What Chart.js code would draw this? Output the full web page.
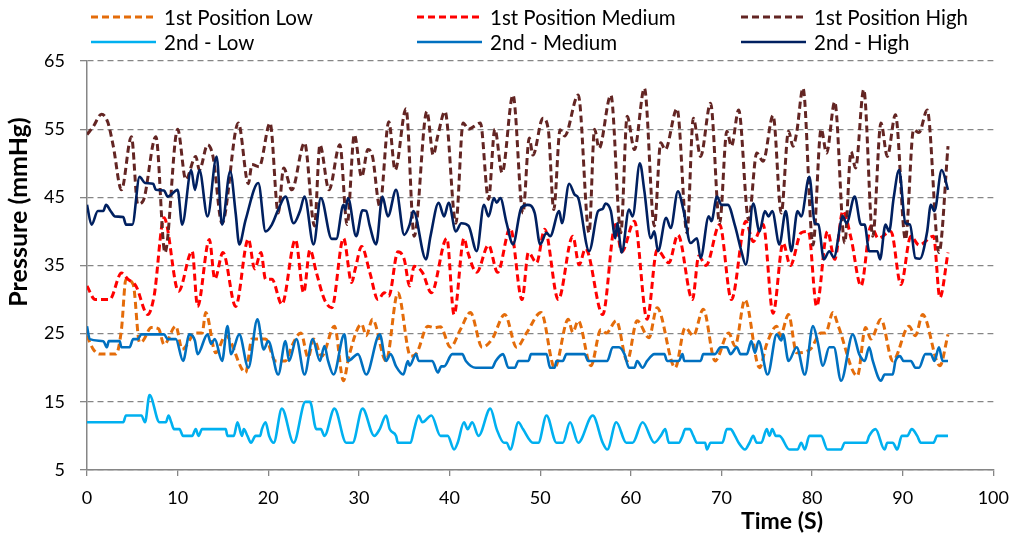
<!DOCTYPE html>
<html>
<head>
<meta charset="utf-8">
<script src="https://cdn.jsdelivr.net/npm/chart.js@4.4.1/dist/chart.umd.min.js"></script>
<style>
  html, body { margin: 0; padding: 0; background: #fff; }
</style>
</head>
<body>
<canvas id="myChart" width="1020" height="536"></canvas>
<script>
var FONT = "Lato, 'Open Sans', sans-serif";

// [time (s), pressure (mmHg)]
var pos1Low = [[0,24.7],[0.7,22.7],[1.4,22],[3.2,22],[3.8,25.6],[4.3,33],[5.1,32.2],[5.8,23.7],[6.2,24],[7.1,25.9],
  [7.9,25.7],[8.5,23.4],[9.8,26.1],[10.5,22.7],[12,25.1],[12.7,25.1],[13.1,28.1],[14.2,22.2],[15.3,24.7],[17.5,19.3],
  [18.2,24.2],[19.7,24.2],[20.8,21],[21.9,21],[22.6,23.2],[23.6,25.1],[24.4,21.5],[25,24.2],[25.9,21.7],[27.3,26.1],
  [28.3,18.1],[28.9,21.7],[30.3,26.4],[30.8,24.7],[31.5,27.1],[33,21],[34.3,31],[35.7,21.7],[36.4,22.2],[37.6,26.1],
  [38.3,25.9],[39,26],[40.1,23],[41.2,25.6],[42.3,28.1],[43.6,23],[44.7,24.2],[46.1,27.8],[47.4,23],[48.5,25.1],
  [50.1,28.1],[51.6,20],[53.1,27.1],[53.6,25.2],[54.2,26.9],[55.6,20.3],[56.7,25.6],[57.3,25.1],[58.4,26.9],[59.6,21],
  [60.7,26.9],[62,24.4],[62.9,28.8],[64.9,20],[66,25.9],[66.9,24.7],[68,28.6],[69.3,21],[70.8,25.1],[71.5,23.2],
  [72.6,30],[74.2,20],[75,23.5],[76.1,26.1],[76.5,24.7],[77.4,27.8],[78.3,22.2],[79.8,22.7],[81,25.1],[81.5,25.1],
  [82.3,28.1],[82.9,26.1],[85,18.8],[85.9,25.9],[86.5,24.2],[87.6,27.1],[88.9,21],[90.7,26.1],[91.4,24.7],[92.2,27.8],
  [94.1,20.3],[95,24.9]];

var pos1Medium = [[0,32],[0.9,30],[2.5,30],[3.8,33.9],[4.5,33],[5.4,32],[6.7,27.8],[7.4,30.5],[8.5,42],[10.1,31.2],
  [11.6,37.1],[12.2,29],[13.5,38.8],[14.1,33],[15,36.9],[16.4,29],[17.8,38.9],[18.5,34.5],[19.2,36.9],[19.7,33],
  [20.4,33],[21.5,29.3],[23,38.8],[23.9,31],[24.6,37.3],[25.3,34],[26.2,30],[27,28.8],[28.3,39],[29.2,32.5],
  [29.6,34.5],[30.3,37.8],[31.2,34],[32.1,30],[32.8,31],[33.3,30.5],[34.3,37],[35,35.9],[35.6,32],[36.1,34.9],
  [37,34],[38,31],[39.7,39],[40.5,27.8],[41.6,39],[42,37],[43,34],[44.3,38],[45.3,34],[46.7,40.5],
  [48,30],[48.7,36.9],[49.6,35.4],[50.5,40.3],[52,30],[53.6,39.3],[54.3,35.1],[55,37.5],[56.9,27.8],[58.3,41],
  [59,37],[60.4,41.5],[61.8,27.1],[62.9,37.3],[64.2,35.4],[65.2,39.5],[66.8,30],[67.5,36.4],[68.3,35],[69.8,41],
  [71.1,30],[72.7,41.5],[73.5,38.5],[74.6,41],[75.7,28],[76.8,38.3],[77.6,35],[78.8,39.8],[79.6,40],[80.5,29],
  [81.7,40],[82.5,35.9],[83.4,43],[84.3,39],[85.4,32],[86.5,40.8],[87.3,39],[88.7,40],[89.8,32.2],[90.9,39.3],
  [91.8,38],[93.4,39.3],[94.1,30.3],[95,36.9]];

var pos1High = [[0,54.2],[0.7,55.4],[1.6,57.2],[2.3,56],[2.9,52.5],[3.8,46.1],[4.9,53.9],[5.6,44],[6.2,44.5],[7.6,53.9],
  [8.6,36.9],[10,55],[10.9,47.6],[12,51],[12.4,49],[13.3,52.7],[13.9,51],[14.9,41.2],[16.7,55.9],[17.8,47],
  [18.2,49.8],[19,49.5],[20.2,55.9],[21.1,42.7],[21.7,49.3],[22.6,46.1],[24,53],[25.1,40.8],[25.7,52.7],[26.7,46.1],
  [27.9,52.7],[28.7,41],[29.5,54.2],[30.3,48],[31,52],[31.5,51],[32.3,43.7],[33.3,56.1],[34,49],[35.2,58],
  [36.1,39.3],[37.5,57.6],[38.2,51.2],[38.7,54],[39.5,57.6],[40.7,41.2],[41.5,55.9],[42.1,55],[42.7,55.4],[43.4,55.9],
  [44.3,44.7],[45,55],[45.8,48.6],[47,60],[48.1,42.7],[48.8,53.7],[49.2,51.2],[50.3,56.6],[50.9,54.9],[51.5,43.2],
  [52.2,54.9],[52.7,54],[54.2,60],[55.4,39.8],[56,55],[56.5,52.2],[57.8,60],[58.9,39.8],[59.6,56.9],[60.4,52],
  [61.5,61],[62.6,40.8],[63.3,53],[63.8,52],[65.1,58],[66.2,39.8],[66.9,56.6],[67.7,51],[68.8,58.8],[69.8,41.2],
  [70.6,54.7],[71.1,52.5],[71.9,57.8],[73,41.7],[73.9,51.5],[74.6,50.3],[75.7,57],[76.6,42.7],[77.4,54.7],[77.9,52.5],
  [78.3,54.5],[79,61],[80.1,38],[81,55],[81.6,51.5],[82.5,59],[83.6,38.3],[84.3,51.7],[84.8,49.3],[85.7,60.8],
  [86.7,39.3],[87.6,55.9],[88.3,51],[89.2,57.1],[90.3,38.8],[91.2,54.9],[91.8,54.5],[92.7,57.8],[94,36.9],[95,52.5]];

var pos2Low = [[0,12],[4,12],[4.3,13],[6,13],[6.4,12],[6.9,16],[8,12],[8.7,12],[9,13],[9.3,12],
  [9.6,11],[10.2,11],[10.6,10],[11.6,10],[12,11],[12.3,10],[12.7,11],[15.3,11],[15.5,10],[16.2,10],
  [16.6,12],[17.1,10],[17.3,11],[17.7,10],[18.1,9],[18.6,10],[19.1,10],[19.3,11],[19.7,12],[20.1,10],
  [20.6,9],[21.5,14],[22.8,9],[24.1,15],[24.6,15],[25.3,11],[25.8,11],[26.2,10],[27.3,14],[28.6,9],
  [29.3,9],[30.4,14],[31.7,10],[32.3,11],[33,13],[33.4,11],[34.1,10],[34.3,9],[35.7,9],[36.1,11],
  [36.6,13],[37,12],[38,13],[39,10],[39.8,10],[40.5,8],[40.9,9],[41.6,12],[42,11],[42.5,12],
  [43.2,10],[44.5,14],[45.2,11],[46,9],[46.3,9],[46.7,8],[47.6,12],[48.1,11],[49.2,9],[49.8,9],
  [50.7,13],[51.8,9],[52.5,9],[53.3,12],[54.2,9],[55.8,13],[56.9,9],[57.4,8],[58.4,12],[59.5,9],
  [60.2,9],[61.3,12],[62.6,9],[63.3,10],[63.8,11],[64.2,9],[65.3,9],[65.7,10],[66,11],[66.5,11],
  [66.9,10],[67.3,9],[68.2,9],[68.4,8],[68.8,9],[70.1,9],[70.6,11],[71,11],[71.5,10],[71.9,9],
  [72.6,8],[73.1,9],[73.5,10],[73.9,9],[74.4,9],[75,11],[75.3,10],[75.6,11],[76,10],[76.4,10],
  [77.5,8],[78.4,8],[78.8,9],[79.2,8],[79.7,10],[81,10],[81.7,8],[83.2,8],[83.6,9],[86,9],
  [86.3,10],[87,11],[88,8],[88.3,9],[88.9,9],[89.4,8],[89.9,10],[90.5,10],[91,11],[91.6,10],
  [92,9],[93.4,9],[93.8,10],[95,10]];

var pos2Medium = [[0,26.1],[0.3,24.2],[1.8,23.9],[2.2,23],[2.4,23.9],[3.6,23.9],[3.8,23],[4.7,23],[5.1,24.2],[5.6,24.2],
  [6,24.9],[8.5,24.9],[8.9,24.2],[9.8,24.2],[10.6,21],[11.3,24.9],[11.9,24],[12.2,22],[13.3,24.9],[13.7,23.5],
  [14.1,24.2],[14.9,21],[15.5,26.1],[15.9,22],[16.8,24.9],[17.8,20],[18.8,27.1],[19.5,22.7],[20,23.9],[21.1,19],
  [21.9,23.9],[22.3,21],[23.1,24.2],[24,19],[24.9,24.2],[25.7,21],[26.2,23.2],[26.6,21],[27.2,19],[28.4,24.9],
  [28.8,21],[29.9,22],[30.8,19],[32.3,24.9],[33,21],[33.5,22],[34.1,20.2],[34.9,19],[35.4,21],[35.6,20.3],
  [36.3,22],[36.6,21],[38.1,21],[38.7,19.3],[39.1,20.2],[39.4,20.2],[40.3,22],[41.4,22],[41.8,21],[42.9,20],
  [44.7,20],[45.1,21],[45.9,22],[46.5,20],[47.2,20],[47.6,21],[48.7,21],[49,22],[50.7,22],[51.1,20],
  [51.6,20],[51.8,21],[52.5,21],[52.9,22],[54.9,22],[55.3,21],[57.4,21],[58,23],[58.7,23],[59.3,22],
  [59.8,20],[60.4,20],[60.7,21],[61.3,20],[61.8,21],[62.6,22],[63.7,22],[64,21],[65.3,21],[65.7,22],
  [65.9,21],[67.7,21],[68,22],[69.3,22],[69.9,23],[70.6,23],[71,22],[71.7,23],[72.1,22],[72.8,22],
  [73.3,23.9],[73.7,22.2],[74.1,23.9],[75.1,19],[76.1,24.9],[76.6,24],[76.8,24.9],[77.4,21],[78.3,23],[79.2,19],
  [80.1,26.1],[80.6,23.9],[81.2,20.3],[81.9,23],[82.4,23],[83.2,18.1],[84.5,24.9],[85.2,22],[85.8,21],[86.3,23],
  [86.7,21],[87.6,18.1],[88,19],[88.9,19],[89.2,21],[89.7,21.7],[90.1,21],[90.9,21],[91.4,20],[91.8,20],
  [92.5,22],[93.1,22],[93.5,21],[94,23],[94.4,21],[95,21]];

var pos2High = [[0,43.9],[0.5,41],[1.2,43],[1.8,43],[2.1,43.9],[2.6,43],[3.1,42.2],[4,42.1],[4.3,41],[5,41],
  [5.8,48],[6.4,47.1],[7.3,47],[7.6,46.1],[8.5,46],[8.9,45.1],[10,46.1],[10.5,41],[11.5,49],[11.9,46.1],
  [12.4,49],[13.3,42.2],[14.3,51],[14.9,41],[15.8,48.8],[16.4,42.7],[16.8,38.1],[17.5,41.7],[18.9,47.1],[19.7,40],
  [20.4,41],[21.1,43.2],[21.9,45.1],[22.8,41.2],[23.5,43],[24,45.1],[25,38.1],[25.8,44.9],[27,38.9],[27.5,38.9],
  [28.3,43.9],[28.5,43.2],[28.8,44.9],[29.7,39.3],[30.4,43.1],[30.8,43],[31.2,40.8],[31.9,38.1],[32.6,45.1],[33.2,42.2],
  [34.1,46.1],[35,39.5],[35.6,41],[36,43],[37.4,35.9],[37.9,39.3],[38.8,44.2],[39.4,42.2],[39.9,44.2],[40.7,40],
  [41.3,41.2],[42.1,40.8],[43,37.1],[43.8,43.9],[44.3,42.2],[44.9,44.9],[45.2,44.2],[45.6,44.9],[46.3,41.2],[47,38.1],
  [47.9,43.4],[48.6,43.9],[49.4,42.7],[50,38.1],[50.7,39.8],[51.1,39.3],[52.1,43],[52.4,41.2],[53.2,47],[53.8,45.4],
  [54.2,44.9],[55.4,37.1],[56.4,43],[56.9,43.3],[57.2,44.1],[57.8,43],[58.3,39],[58.5,41.2],[59,36.9],[59.8,43.2],
  [60.2,42.2],[61,50],[61.5,45.9],[62.2,39],[62.6,40],[63,37.1],[63.9,42],[64.4,40.5],[65.2,45.9],[65.8,43.2],
  [66.6,38.3],[67.3,39],[67.7,36.1],[68.6,42.2],[68.9,41.5],[69.5,45.1],[70,43.9],[70.7,43.9],[71.5,40.8],[72.2,37.1],
  [72.7,35.1],[73.5,44.1],[74.2,40],[74.8,43],[75.2,42.2],[75.6,43],[76.4,38.1],[77.1,43],[77.7,37.1],[78.4,43],
  [78.8,42.2],[79.7,48],[80.3,41.2],[80.7,41],[81.3,35.9],[81.9,37.1],[82.4,36.2],[83.4,42.2],[83.8,41.2],[84.7,45.1],
  [85.4,41],[85.8,41],[86.3,37.1],[87.2,37.1],[87.5,35.9],[88.1,41],[88.5,40],[89,44.9],[89.6,49],[90.3,41.2],
  [90.8,41],[91.4,36.1],[91.9,36],[92.7,40],[93.1,43.9],[93.5,43],[94.3,49],[95,46.1]];

var seriesNames = ['1st Position Low', '1st Position Medium', '1st Position High', '2nd - Low', '2nd - Medium', '2nd - High'];
var seriesData = [pos1Low, pos1Medium, pos1High, pos2Low, pos2Medium, pos2High];
var seriesColors = ['#E46C0A', '#FF0000', '#632523', '#00B0F0', '#0070C0', '#002060'];
var seriesDashed = [true, true, true, false, false, false];

var xTicks = [0, 100, 10];   // min, max, step
var yTicks = [5, 65, 10];

var datasets = seriesData.map(function (d, i) {
  return {
    label: seriesNames[i],
    data: d.map(function (p) { return { x: p[0], y: p[1] }; }),
    borderColor: seriesColors[i],
    backgroundColor: seriesColors[i],
    borderWidth: seriesDashed[i] ? 3 : 2.6,
    borderDash: seriesDashed[i] ? [7, 4] : [],
    fill: false,
    pointRadius: 0,
    cubicInterpolationMode: 'monotone',
    order: -i   // later series on top, like the original
  };
});

// legend (2 rows x 3 columns) and both axis titles, which sit off-centre
const extrasPlugin = {
  id: 'extras',
  afterDraw: (chart) => {
    let ctx = chart.ctx;
    ctx.save();
    let colX = [91, 417, 741];
    let rowY = [17, 42];
    ctx.font = '20.5px ' + FONT;
    ctx.textBaseline = 'middle';
    ctx.textAlign = 'left';
    chart.data.datasets.forEach(function (ds, i) {
      let c = i % 3, r = Math.floor(i / 3);
      let x = colX[c], y = rowY[r];
      ctx.beginPath();
      ctx.strokeStyle = ds.borderColor;
      ctx.lineWidth = ds.borderWidth;
      ctx.setLineDash(ds.borderDash);
      ctx.moveTo(x, y);
      ctx.lineTo(x + 65, y);
      ctx.stroke();
      ctx.setLineDash([]);
      ctx.fillStyle = '#000';
      ctx.fillText(ds.label, x + 73, y + 1);
    });
    ctx.font = 'bold 23px ' + FONT;
    ctx.textAlign = 'center';
    ctx.fillText('Time (S)', 782, 522);
    ctx.font = 'bold 25px ' + FONT;
    ctx.translate(19, 212);
    ctx.rotate(-Math.PI / 2);
    ctx.fillText('Pressure (mmHg)', 0, 0);
    ctx.restore();
  }
};

var chart = new Chart(document.getElementById('myChart'), {
  type: 'line',
  data: { datasets: datasets },
  options: {
    responsive: false,
    animation: false,
    layout: { padding: { top: 61, right: 20, left: 0, bottom: 0 } },
    plugins: { legend: { display: false }, tooltip: { enabled: false } },
    scales: {
      x: {
        type: 'linear',
        min: xTicks[0], max: xTicks[1],
        ticks: { stepSize: xTicks[2], color: '#000', padding: 11, font: { family: FONT, size: 18 } },
        grid: { drawOnChartArea: false, tickLength: 6, color: '#868686', lineWidth: 1.3 },
        border: { color: '#868686', width: 1.5 },
        afterFit: (s) => { s.height = 66; }
      },
      y: {
        min: yTicks[0], max: yTicks[1],
        ticks: { stepSize: yTicks[2], color: '#000', padding: 15, font: { family: FONT, size: 18 } },
        grid: { color: '#868686', lineWidth: 1.3, tickLength: 7, tickBorderDash: [] },
        border: { color: '#868686', width: 1.5, dash: [6, 4] },
        afterFit: (s) => { s.width = 87; }
      }
    }
  },
  plugins: [extrasPlugin]
});
</script>
</body>
</html>
